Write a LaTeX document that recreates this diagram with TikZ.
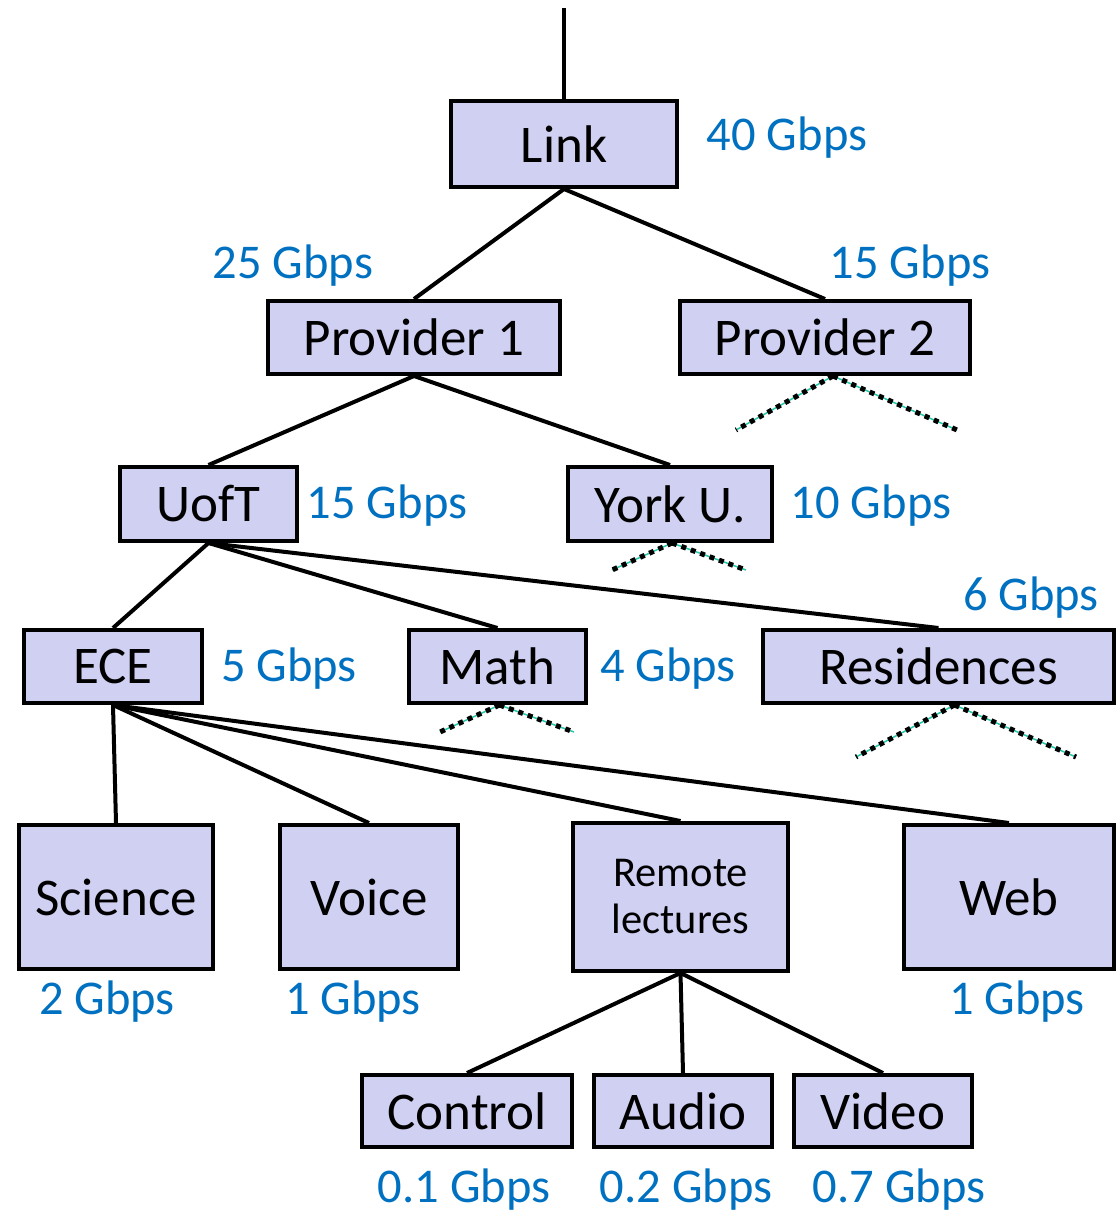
\documentclass[tikz,border=0pt]{standalone}
\usepackage{fontspec}
\setmainfont{Carlito}
\usetikzlibrary{backgrounds}
\definecolor{boxfill}{RGB}{208,208,242}
\definecolor{ratecol}{RGB}{0,112,192}
\definecolor{stubcol}{RGB}{40,200,170}
\tikzset{
  unit/.style={draw=black, line width=4pt, fill=boxfill, inner sep=0pt, align=center,
    font=\fontsize{53}{58}\selectfont},
  small/.style={font=\fontsize{42.5}{50}\selectfont},
  rate/.style={text=ratecol, inner sep=0pt, font=\fontsize{48.5}{54}\selectfont},
  edge/.style={line width=4pt},
  stubline/.style={draw=stubcol, line width=1.5pt},
  stubdots/.style={draw=black, line width=5pt, dash pattern=on 5pt off 5pt},
}
% \unitbox{name}{cx}{cy}{width}{height} followed by the label in braces
\newcommand{\unitbox}[5]{%
  \node[unit, minimum width=#4pt, minimum height=#5pt] (#1) at (#2,#3)}
\begin{document}
\begin{tikzpicture}[x=1pt,y=-1pt]
\useasboundingbox (0,0) rectangle (1116,1212);

% boxes
\unitbox{link}{564}{144}{226}{86} {Link};
\unitbox{pa}{414}{337.5}{292}{73} {Provider 1};
\unitbox{pb}{825}{337.5}{290}{73} {Provider 2};
\unitbox{uoft}{208.5}{504}{177}{74} {UofT};
\unitbox{york}{670}{504}{204}{74} {York U.};
\unitbox{ece}{113}{666.5}{178}{73} {ECE};
\unitbox{math}{497.5}{666.5}{177}{73} {Math};
\unitbox{res}{938.5}{666.5}{351}{73} {Residences};
\unitbox{sci}{116}{897}{194}{144} {Science};
\unitbox{voice}{369}{897}{178}{144} {Voice};
\node[unit, small, minimum width=215pt, minimum height=148pt] (remote) at (680.5,897)
  {Remote\\[-3pt]lectures};
\unitbox{web}{1009}{897}{210}{144} {Web};
\unitbox{ctrl}{467}{1111}{210}{72} {Control};
\unitbox{audio}{683}{1111}{178}{72} {Audio};
\unitbox{video}{883}{1111}{178}{72} {Video};

% rate labels
\node[rate] (r40) at (787,138) {40 Gbps};
\node[rate] (r25) at (293,266) {25 Gbps};
\node[rate] (r15b) at (910,266) {15 Gbps};
\node[rate] (r15u) at (387,506) {15 Gbps};
\node[rate] (r10) at (871,506) {10 Gbps};
\node[rate] (r6) at (1031,598) {6 Gbps};
\node[rate] (r5) at (289,669) {5 Gbps};
\node[rate] (r4) at (668,669) {4 Gbps};
\node[rate] (r2) at (107,1002) {2 Gbps};
\node[rate] (r1v) at (353,1002) {1 Gbps};
\node[rate] (r1w) at (1017,1002) {1 Gbps};
\node[rate] (r01) at (464,1190) {0.1 Gbps};
\node[rate] (r02) at (686,1190) {0.2 Gbps};
\node[rate] (r07) at (899,1190) {0.7 Gbps};

% uplink and the ends of elided subtrees
\coordinate (top) at (564,8);
\coordinate (pbl) at (736,430);  \coordinate (pbr) at (957,430);
\coordinate (yl) at (612,570);   \coordinate (yr) at (746,570);
\coordinate (ml) at (440,732);   \coordinate (mr) at (574,732);
\coordinate (rl) at (856,757);   \coordinate (rr) at (1076,757);

\begin{scope}[on background layer]
  \begin{scope}[edge]
    \draw (top) -- (link.north);
    \draw (link.south) -- (pa.north);
    \draw (link.south) -- (pb.north);
    \draw (pa.south) -- (uoft.north);
    \draw (pa.south) -- (york.north);
    \draw (uoft.south) -- (ece.north);
    \draw (uoft.south) -- (math.north);
    \draw (uoft.south) -- (res.north);
    \draw (ece.south) -- (sci.north);
    \draw (ece.south) -- (voice.north);
    \draw (ece.south) -- (remote.north);
    \draw (ece.south) -- (web.north);
    \draw (remote.south) -- (ctrl.north);
    \draw (remote.south) -- (audio.north);
    \draw (remote.south) -- (video.north);
  \end{scope}
  % dotted stubs below boxes whose children are not shown
  \foreach \n/\dx/\a/\b in {pb/8/pbl/pbr, york/2/yl/yr, math/2/ml/mr, res/16/rl/rr}{
    \draw[stubline] (\a) -- ([xshift=\dx pt]\n.south) -- (\b);
    \draw[stubdots] ([xshift=\dx pt]\n.south) -- (\a);
    \draw[stubdots] ([xshift=\dx pt]\n.south) -- (\b);
  }
\end{scope}
\end{tikzpicture}
\end{document}
